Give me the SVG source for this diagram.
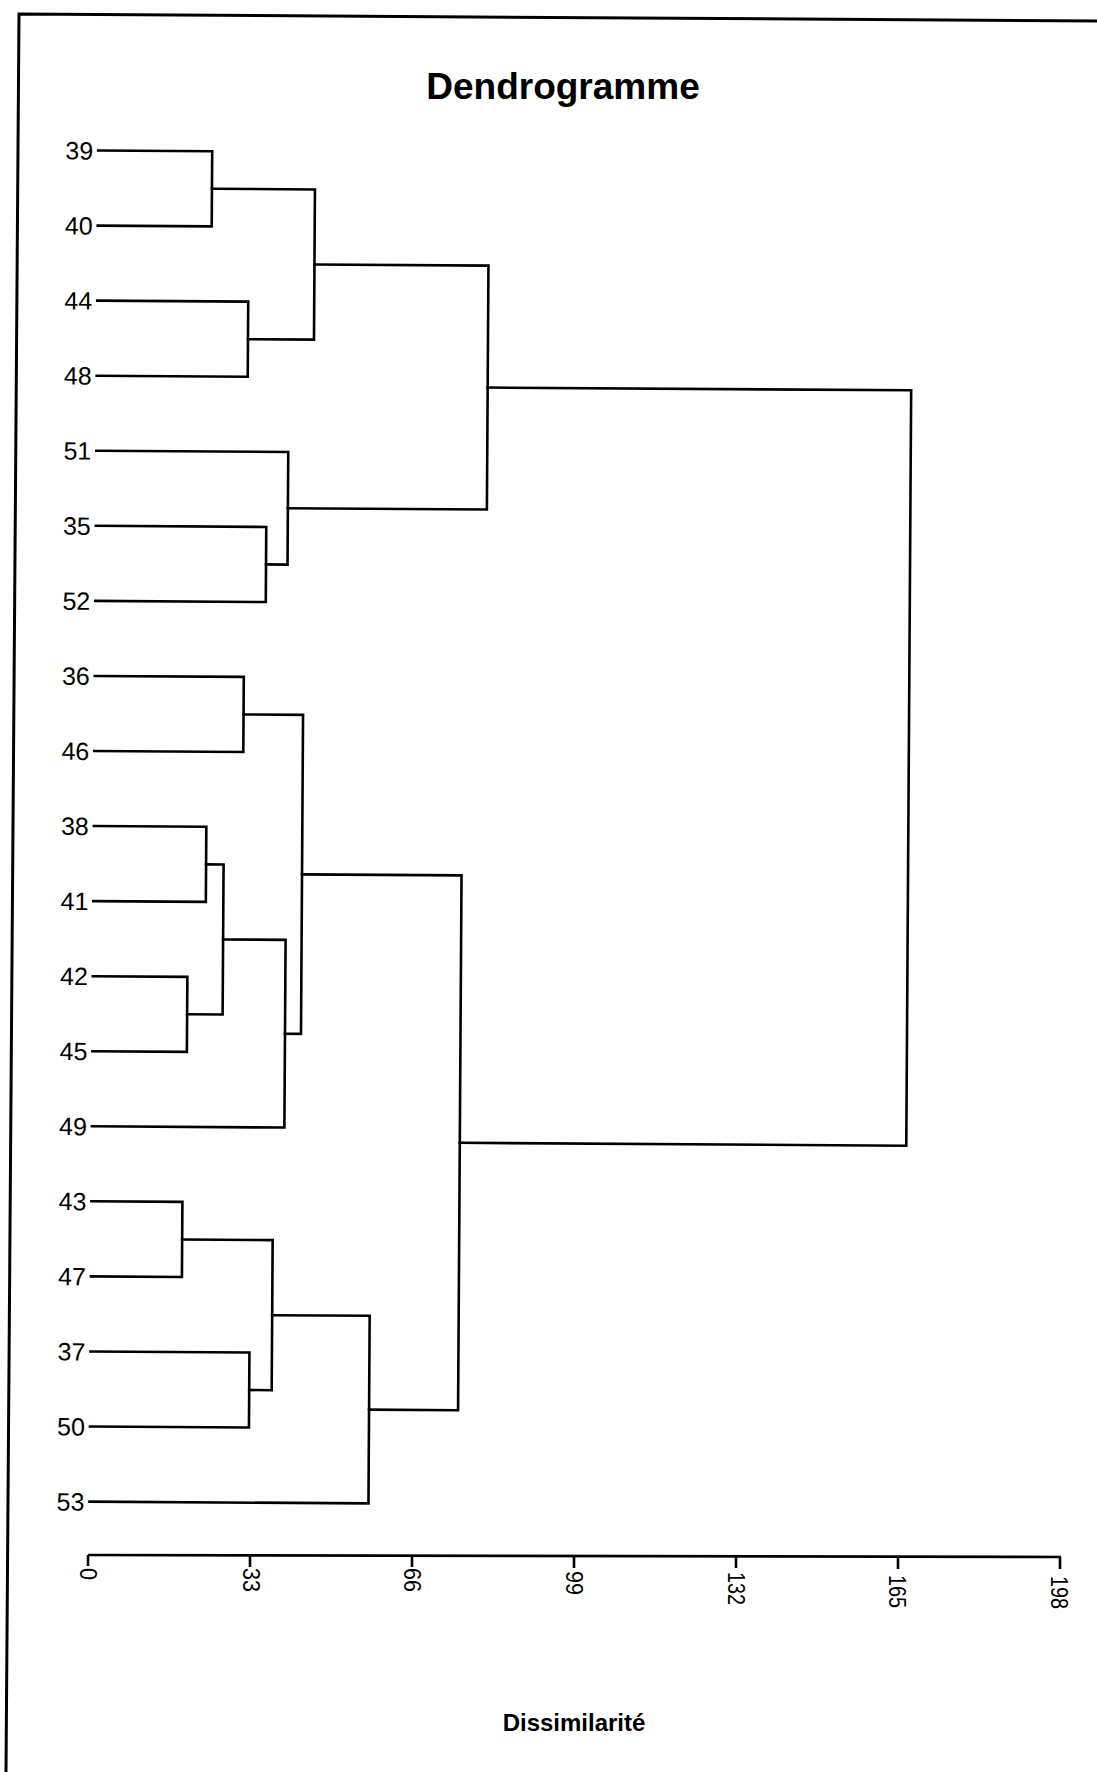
<svg xmlns="http://www.w3.org/2000/svg" width="1097" height="1772" viewBox="0 0 1097 1772">
<style>
.frame{fill:none;stroke:#000;stroke-width:3}
.link{fill:none;stroke:#000;stroke-width:2.6;stroke-linejoin:miter;stroke-linecap:square}
.axis{fill:none;stroke:#000;stroke-width:2.6}
.leaf{font-family:"Liberation Sans",Arial,sans-serif;font-size:25px;fill:#000;text-anchor:end}
.tick{font-family:"Liberation Sans",Arial,sans-serif;font-size:24px;fill:#000;lengthAdjust:spacingAndGlyphs}
.title{font-family:"Liberation Sans",Arial,sans-serif;font-weight:bold;fill:#000;text-anchor:middle}
</style>
<rect x="0" y="0" width="1097" height="1772" fill="#fff"/>
<g id="frame">
<polyline class="frame" points="1097,21 19,14 6,1772"/>
</g>
<text class="title" x="563" y="99" font-size="37">Dendrogramme</text>
<g id="dendrogram" transform="rotate(0.37 90 800)">
<g id="connectors">
<path class="link" d="M94,150.5 H208 V225.6 H94"/>
<path class="link" d="M94,300.6 H245 V375.7 H94"/>
<path class="link" d="M208,188 H311 V338.2 H245"/>
<path class="link" d="M94,525.8 H264.5 V600.9 H94"/>
<path class="link" d="M94,450.7 H286 V563.3 H264.5"/>
<path class="link" d="M311,263.1 H485 V507 H286"/>
<path class="link" d="M94,675.9 H243 V751 H94"/>
<path class="link" d="M94,826 H206.5 V901.1 H94"/>
<path class="link" d="M94,976.2 H188.5 V1051.2 H94"/>
<path class="link" d="M206.5,863.6 H224 V1013.7 H188.5"/>
<path class="link" d="M224,938.6 H286.5 V1126.3 H94"/>
<path class="link" d="M243,713.5 H302.5 V1032.5 H286.5"/>
<path class="link" d="M94,1201.3 H185 V1276.4 H94"/>
<path class="link" d="M94,1351.5 H253 V1426.5 H94"/>
<path class="link" d="M185,1238.9 H275.5 V1389 H253"/>
<path class="link" d="M275.5,1314 H373 V1501.6 H94"/>
<path class="link" d="M302.5,873 H462 V1407.8 H373"/>
<path class="link" d="M485,385 H908.5 V1140.4 H462"/>
</g>
<g id="leaf-39"><text class="leaf" x="89" y="159.5">39</text></g>
<g id="leaf-40"><text class="leaf" x="89" y="234.6">40</text></g>
<g id="leaf-44"><text class="leaf" x="89" y="309.6">44</text></g>
<g id="leaf-48"><text class="leaf" x="89" y="384.7">48</text></g>
<g id="leaf-51"><text class="leaf" x="89" y="459.7">51</text></g>
<g id="leaf-35"><text class="leaf" x="89" y="534.8">35</text></g>
<g id="leaf-52"><text class="leaf" x="89" y="609.9">52</text></g>
<g id="leaf-36"><text class="leaf" x="89" y="684.9">36</text></g>
<g id="leaf-46"><text class="leaf" x="89" y="760">46</text></g>
<g id="leaf-38"><text class="leaf" x="89" y="835">38</text></g>
<g id="leaf-41"><text class="leaf" x="89" y="910.1">41</text></g>
<g id="leaf-42"><text class="leaf" x="89" y="985.2">42</text></g>
<g id="leaf-45"><text class="leaf" x="89" y="1060.2">45</text></g>
<g id="leaf-49"><text class="leaf" x="89" y="1135.3">49</text></g>
<g id="leaf-43"><text class="leaf" x="89" y="1210.3">43</text></g>
<g id="leaf-47"><text class="leaf" x="89" y="1285.4">47</text></g>
<g id="leaf-37"><text class="leaf" x="89" y="1360.5">37</text></g>
<g id="leaf-50"><text class="leaf" x="89" y="1435.5">50</text></g>
<g id="leaf-53"><text class="leaf" x="89" y="1510.6">53</text></g>
</g>
<g id="axis">
<path class="axis" d="M88,1555 L1061,1557"/>
<path class="axis" d="M88,1555 V1566 M250,1555.3 V1567 M412,1555.7 V1567 M574,1556 V1568 M736,1556.3 V1568 M898,1556.7 V1569 M1060,1557 V1569"/>
<text class="tick" transform="translate(79.5,1568) rotate(90)" textLength="12" lengthAdjust="spacingAndGlyphs">0</text>
<text class="tick" transform="translate(242.5,1568) rotate(90)" textLength="24" lengthAdjust="spacingAndGlyphs">33</text>
<text class="tick" transform="translate(403.5,1568) rotate(90)" textLength="24" lengthAdjust="spacingAndGlyphs">66</text>
<text class="tick" transform="translate(565.5,1571) rotate(90)" textLength="24" lengthAdjust="spacingAndGlyphs">99</text>
<text class="tick" transform="translate(727.5,1572) rotate(90)" textLength="33" lengthAdjust="spacingAndGlyphs">132</text>
<text class="tick" transform="translate(888.5,1575) rotate(90)" textLength="33" lengthAdjust="spacingAndGlyphs">165</text>
<text class="tick" transform="translate(1050.5,1576) rotate(90)" textLength="33" lengthAdjust="spacingAndGlyphs">198</text>
</g>
<text class="title" x="574" y="1731" font-size="24">Dissimilarité</text>
</svg>
